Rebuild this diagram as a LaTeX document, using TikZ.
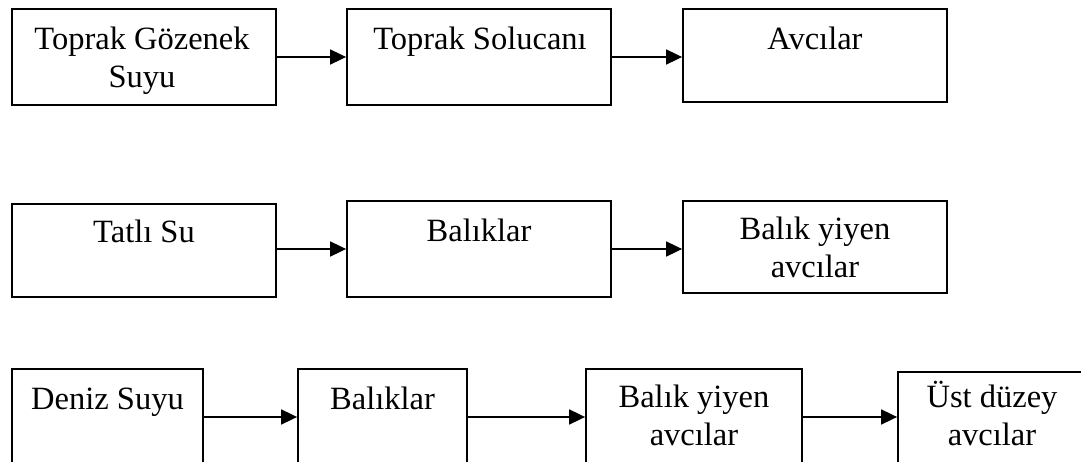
\documentclass[tikz,border=0pt]{standalone}
\usepackage{fontspec}
\setmainfont{Liberation Serif}
\usetikzlibrary{arrows.meta}

\begin{document}
\begin{tikzpicture}[x=1pt, y=-1pt,
  box/.style={draw=black, line width=1.8pt, rectangle, inner sep=0pt},
  lbl/.style={anchor=base, inner sep=0pt, font=\fontsize{32.5}{38}\selectfont},
  arr/.style={draw=black, line width=1.8pt, -{Triangle[length=16pt, width=15pt]}}
]
  \useasboundingbox (0,0) rectangle (1081,462);

  % Row 1: soil pore water chain
  \node[box, minimum width=264pt, minimum height=96pt] (b11) at (144,57) {};
  \node[box, minimum width=264pt, minimum height=96pt] (b12) at (479,57) {};
  \node[box, minimum width=264pt, minimum height=93pt] (b13) at (815,55.5) {};
  \node[lbl] (t11a) at (142,50) {Toprak Gözenek};
  \node[lbl] (t11b) at (142,88) {Suyu};
  \node[lbl] (t12) at (480,50) {Toprak Solucanı};
  \node[lbl] (t13) at (815,50) {Avcılar};
  \draw[arr] (b11.east |- 0,57) -- (b12.west |- 0,57);
  \draw[arr] (b12.east |- 0,57) -- (b13.west |- 0,57);

  % Row 2: freshwater chain
  \node[box, minimum width=264pt, minimum height=93pt] (b21) at (144,250.5) {};
  \node[box, minimum width=264pt, minimum height=96pt] (b22) at (479,249) {};
  \node[box, minimum width=264pt, minimum height=92pt] (b23) at (815,247) {};
  \node[lbl] (t21) at (144,243) {Tatlı Su};
  \node[lbl] (t22) at (479,242) {Balıklar};
  \node[lbl] (t23a) at (815,240) {Balık yiyen};
  \node[lbl] (t23b) at (815,277) {avcılar};
  \draw[arr] (b21.east |- 0,249) -- (b22.west |- 0,249);
  \draw[arr] (b22.east |- 0,249) -- (b23.west |- 0,249);

  % Row 3: seawater chain (runs past the lower edge)
  \node[box, minimum width=191pt, minimum height=110pt] (b31) at (107.5,424) {};
  \node[box, minimum width=169pt, minimum height=110pt] (b32) at (382.5,424) {};
  \node[box, minimum width=216pt, minimum height=110pt] (b33) at (694,424) {};
  \node[box, minimum width=188pt, minimum height=106pt] (b34) at (992,425) {};
  \node[lbl] (t31) at (107.5,409) {Deniz Suyu};
  \node[lbl] (t32) at (382.5,409) {Balıklar};
  \node[lbl] (t33a) at (694,407) {Balık yiyen};
  \node[lbl] (t33b) at (694,445) {avcılar};
  \node[lbl] (t34a) at (992,407) {Üst düzey};
  \node[lbl] (t34b) at (992,445) {avcılar};
  \draw[arr] (b31.east |- 0,417) -- (b32.west |- 0,417);
  \draw[arr] (b32.east |- 0,417) -- (b33.west |- 0,417);
  \draw[arr] (b33.east |- 0,417) -- (b34.west |- 0,417);
\end{tikzpicture}
\end{document}
